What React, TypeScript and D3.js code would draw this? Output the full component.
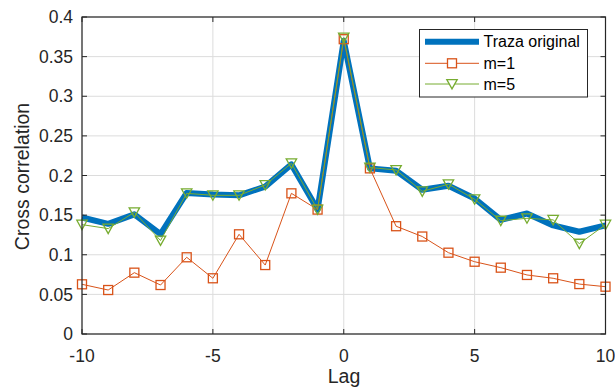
import React from "react";
import * as d3 from "d3";

const lags = [-10, -9, -8, -7, -6, -5, -4, -3, -2, -1, 0, 1, 2, 3, 4, 5, 6, 7, 8, 9, 10];
const original = [0.147, 0.139, 0.151, 0.126, 0.178, 0.176, 0.175, 0.186, 0.214, 0.157, 0.37, 0.209, 0.206, 0.182, 0.187, 0.171, 0.144, 0.152, 0.137, 0.129, 0.137];
const m1 = [0.0627, 0.0555, 0.0774, 0.0618, 0.0968, 0.0703, 0.1258, 0.087, 0.1775, 0.157, 0.372, 0.209, 0.136, 0.123, 0.1026, 0.0912, 0.0837, 0.0745, 0.0703, 0.063, 0.0597];
const m5 = [0.138, 0.133, 0.1535, 0.118, 0.1775, 0.175, 0.175, 0.188, 0.2154, 0.157, 0.374, 0.21, 0.207, 0.18, 0.189, 0.17, 0.143, 0.146, 0.144, 0.114, 0.138];
const xTicks = [-10, -5, 0, 5, 10];
const yTicks = [0, 0.05, 0.1, 0.15, 0.2, 0.25, 0.3, 0.35, 0.4];
const legendLabels = ["Traza original", "m=1", "m=5"];

const W = 615, H = 390;
const L = 82, R = 605.5, T = 17, B = 334;
const FONT = "'Liberation Sans', Arial, Helvetica, sans-serif";

export default function App() {
  const x = d3.scaleLinear().domain([-10, 10]).range([L, R]);
  const y = d3.scaleLinear().domain([0, 0.4]).range([B, T]);
  const line = d3.line<number>().x((_, i) => x(lags[i])).y((d) => y(d));
  const tri = (cx: number, cy: number, s = 5.2) =>
    `M${cx - s},${cy - s * 0.85} L${cx + s},${cy - s * 0.85} L${cx},${cy + s * 0.95} Z`;
  const tickLen = 5;
  const axisColor = "#262626";
  const lx = 425, lx2 = 479;
  const rows = [41.7, 63.3, 84];
  return (
    <svg width={W} height={H} style={{ position: "absolute", left: 0, top: 0, background: "#fff" }}>
      <rect x={L} y={T} width={R - L} height={B - T} fill="#fff" />
      {/* grid */}
      {xTicks.map((t) => (
        <line key={"gx" + t} x1={x(t)} x2={x(t)} y1={T} y2={B} stroke="#dcdcdc" strokeWidth={1} />
      ))}
      {yTicks.map((t) => (
        <line key={"gy" + t} x1={L} x2={R} y1={y(t)} y2={y(t)} stroke="#dcdcdc" strokeWidth={1} />
      ))}
      {/* series */}
      <path d={line(original) || ""} fill="none" stroke="#0072BD" strokeWidth={6} strokeLinejoin="round" />
      <path d={line(m1) || ""} fill="none" stroke="#D95319" strokeWidth={1} />
      {m1.map((v, i) => (
        <rect key={"s" + i} x={x(lags[i]) - 4.5} y={y(v) - 4.5} width={9} height={9} fill="none" stroke="#D95319" strokeWidth={1.3} />
      ))}
      <path d={line(m5) || ""} fill="none" stroke="#77AC30" strokeWidth={1} />
      {m5.map((v, i) => (
        <path key={"t" + i} d={tri(x(lags[i]), y(v))} fill="none" stroke="#77AC30" strokeWidth={1.3} />
      ))}
      {/* box and ticks */}
      <rect x={L} y={T} width={R - L} height={B - T} fill="none" stroke={axisColor} strokeWidth={1.2} />
      {xTicks.map((t) => (
        <g key={"tx" + t}>
          <line x1={x(t)} x2={x(t)} y1={B} y2={B - tickLen} stroke={axisColor} />
          <line x1={x(t)} x2={x(t)} y1={T} y2={T + tickLen} stroke={axisColor} />
          <text x={x(t)} y={361.5} textAnchor="middle" fontFamily={FONT} fontSize={17.5} fill={axisColor}>{t}</text>
        </g>
      ))}
      {yTicks.map((t) => (
        <g key={"ty" + t}>
          <line x1={L} x2={L + tickLen} y1={y(t)} y2={y(t)} stroke={axisColor} />
          <line x1={R} x2={R - tickLen} y1={y(t)} y2={y(t)} stroke={axisColor} />
          <text x={73} y={y(t)} dy="0.35em" textAnchor="end" fontFamily={FONT} fontSize={17.5} fill={axisColor}>{String(t)}</text>
        </g>
      ))}
      <text x={344} y={383.3} textAnchor="middle" fontFamily={FONT} fontSize={19.5} fill={axisColor}>Lag</text>
      <text transform="translate(28.5,176.5) rotate(-90)" textAnchor="middle" fontFamily={FONT} fontSize={19.5} fill={axisColor}>Cross correlation</text>
      {/* legend */}
      <rect x={419.5} y={29.5} width={168} height={67.5} fill="#fff" stroke={axisColor} strokeWidth={1} />
      <line x1={lx} x2={lx2} y1={rows[0]} y2={rows[0]} stroke="#0072BD" strokeWidth={6} />
      <line x1={lx} x2={lx2} y1={rows[1]} y2={rows[1]} stroke="#D95319" strokeWidth={1} />
      <rect x={(lx + lx2) / 2 - 4.5} y={rows[1] - 4.5} width={9} height={9} fill="#fff" stroke="#D95319" strokeWidth={1.3} />
      <line x1={lx} x2={lx2} y1={rows[2]} y2={rows[2]} stroke="#77AC30" strokeWidth={1} />
      <path d={tri((lx + lx2) / 2, rows[2])} fill="#fff" stroke="#77AC30" strokeWidth={1.3} />
      {legendLabels.map((s, i) => (
        <text key={s} x={483.5} y={rows[i]} dy="0.35em" fontFamily={FONT} fontSize={16} fill="#000">{s}</text>
      ))}
    </svg>
  );
}
